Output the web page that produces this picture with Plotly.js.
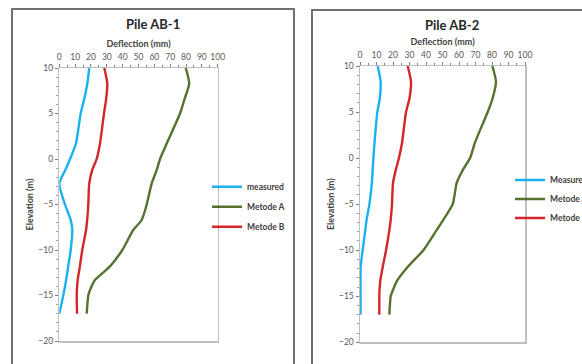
<!DOCTYPE html>
<html>
<head>
<meta charset="utf-8">
<script src="https://cdn.plot.ly/plotly-3.0.1.min.js"></script>
<style>html,body{margin:0;padding:0;background:#fff;}#chart{width:582px;height:364px;}</style>
</head>
<body>
<div id="chart"></div>
<script>
// Elevation (m) sampling points shared by all series
const elevation = [10, 8.3, 6.5, 5, 1.7, 0, -1.2, -2.7, -5, -6.7, -7.8, -10, -11.8, -13.3, -14.4, -15, -17];

// Pile AB-1 deflection (mm)
const ab1Measured = [18.9, 17.7, 15.6, 13.5, 10.5, 6.8, 3.8, 0, 3.6, 7.2, 8.2, 7.2, 5.6, 4.3, 3.2, 2.5, 0];
const ab1MetodeA  = [79.8, 82, 78.9, 76.2, 67.8, 63.6, 61.5, 58.3, 55.2, 52, 46.7, 39.8, 32, 22.5, 19.4, 18.3, 17.3];
const ab1MetodeB  = [28.4, 30.3, 29.5, 28.2, 25.7, 23.6, 20.8, 18.9, 18.3, 17.6, 16.9, 14.5, 13, 11.6, 11.1, 11, 11.2];

// Pile AB-2 deflection (mm)
const ab2Measured = [10.7, 12.5, 12.0, 10.5, 8.8, 8.1, 7.7, 7.2, 5.7, 4, 3.2, 1.6, 0.4, 0.3, 0.3, 0.3, 0.3];
const ab2MetodeA  = [80.2, 82.4, 80.4, 77.4, 69.7, 66.7, 62.6, 58.6, 56.2, 50.5, 46.5, 38.4, 29, 22.5, 19.8, 18.6, 17.8];
const ab2MetodeB  = [28.9, 30.9, 30, 27.9, 25.5, 23.6, 21.8, 20, 19.4, 18.6, 17.8, 15.8, 13.8, 12.3, 11.8, 11.7, 11.7];

const titles = ['Pile AB-1', 'Pile AB-2'];
const names1 = ['measured', 'Metode A', 'Metode B'];
const names2 = ['Measured', 'Metode A', 'Metode B'];
const xTitle = 'Deflection (mm)';
const yTitle = 'Elevation (m)';

const colors = ['#1ab2ee', '#56722f', '#d3262b'];
const W = 582, H = 364;
const px = v => v / W, py = v => 1 - v / H;
const FONT = 'Lato, "Open Sans", sans-serif';

function tr(x, name, i, xa, ya, lg) {
  return {x: x, y: elevation, name: name, type: 'scatter', mode: 'lines',
    xaxis: xa, yaxis: ya, legend: lg, legendgroup: lg + i,
    line: {color: colors[i], width: 2.4, shape: 'spline', smoothing: 0.6}};
}
const data = [
  tr(ab1Measured, names1[0], 0, 'x', 'y', 'legend'),
  tr(ab1MetodeA, names1[1], 1, 'x', 'y', 'legend'),
  tr(ab1MetodeB, names1[2], 2, 'x', 'y', 'legend'),
  tr(ab2Measured, names2[0], 0, 'x2', 'y2', 'legend2'),
  tr(ab2MetodeA, names2[1], 1, 'x2', 'y2', 'legend2'),
  tr(ab2MetodeB, names2[2], 2, 'x2', 'y2', 'legend2')
];

function xa(dom, anchor) {
  return {domain: dom, anchor: anchor, side: 'top', range: [0, 100], dtick: 10,
    ticks: 'outside', ticklen: 3, tickcolor: '#7f7f7f', showline: true, mirror: true,
    linecolor: '#bfbfbf', linewidth: 1.5, showgrid: false, zeroline: false,
    minor: {dtick: 5, ticks: 'outside', ticklen: 2, tickcolor: '#7f7f7f'},
    tickfont: {family: FONT, size: 8.5, color: '#595959'},
    title: {text: '<b>' + xTitle + '</b>', font: {family: FONT, size: 9, color: '#404040'}, standoff: 3}};
}
function ya(dom, anchor) {
  return {domain: dom, anchor: anchor, range: [-20, 10], dtick: 5,
    ticks: 'outside', ticklen: 3, tickcolor: '#7f7f7f', showline: true, mirror: true,
    linecolor: '#bfbfbf', linewidth: 1.5, showgrid: false, zeroline: false,
    minor: {dtick: 1, ticks: 'outside', ticklen: 2, tickcolor: '#9f9f9f'},
    tickfont: {family: FONT, size: 8.5, color: '#595959'},
    title: {text: '<b>' + yTitle + '</b>', font: {family: FONT, size: 9, color: '#404040'}, standoff: 3}};
}

const layout = {
  width: W, height: H,
  margin: {l: 0, r: 0, t: 0, b: 0, autoexpand: false},
  paper_bgcolor: '#fff', plot_bgcolor: '#fff',
  font: {family: FONT},
  xaxis: xa([px(59.3), px(217.7)], 'y'),
  yaxis: ya([py(341), py(68)], 'x'),
  xaxis2: xa([px(360), px(525)], 'y2'),
  yaxis2: ya([py(342.3), py(66)], 'x2'),
  legend: {x: px(207), y: py(206.7), xanchor: 'left', yanchor: 'middle',
    traceorder: 'grouped', tracegroupgap: 1, bgcolor: 'rgba(0,0,0,0)',
    font: {family: FONT, size: 8.5, color: '#404040', weight: 'bold'}},
  legend2: {x: px(510), y: py(199), xanchor: 'left', yanchor: 'middle',
    traceorder: 'grouped', tracegroupgap: 0, bgcolor: 'rgba(0,0,0,0)',
    font: {family: FONT, size: 8.5, color: '#404040', weight: 'bold'}},
  annotations: [
    {text: '<b>' + titles[0] + '</b>', x: px(153), y: py(24), xref: 'paper', yref: 'paper',
      xanchor: 'center', yanchor: 'middle',
      showarrow: false, font: {family: FONT, size: 13, color: '#262626'}},
    {text: '<b>' + titles[1] + '</b>', x: px(452), y: py(25), xref: 'paper', yref: 'paper',
      xanchor: 'center', yanchor: 'middle',
      showarrow: false, font: {family: FONT, size: 13, color: '#262626'}}
  ],
  shapes: [
    {type: 'rect', xref: 'paper', yref: 'paper', x0: px(12), x1: px(294), y0: py(380), y1: py(9),
      line: {color: '#707070', width: 2}},
    {type: 'rect', xref: 'paper', yref: 'paper', x0: px(312), x1: px(620), y0: py(380), y1: py(10),
      line: {color: '#707070', width: 2}}
  ]
};

Plotly.newPlot('chart', data, layout, {staticPlot: true, displayModeBar: false});
</script>
</body>
</html>
